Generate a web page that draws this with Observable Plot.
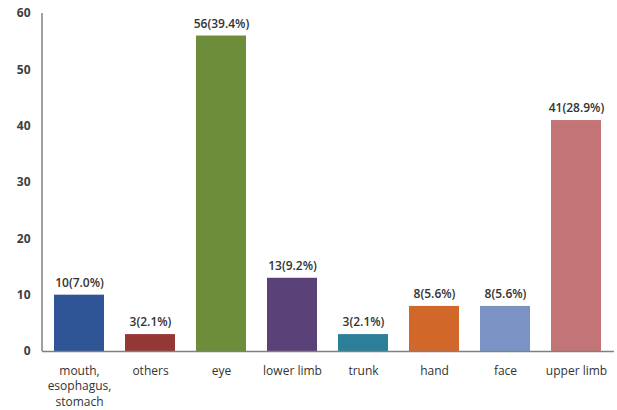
<!DOCTYPE html>
<html>
<head>
<meta charset="utf-8">
<script src="https://cdn.jsdelivr.net/npm/d3@7"></script>
<script src="https://cdn.jsdelivr.net/npm/@observablehq/plot@0.6"></script>
<style>
  html, body { margin: 0; padding: 0; background: #fff; }
  svg { display: block; }
</style>
</head>
<body>
<div id="chart"></div>
<script>
const categories = ["mouth,\nesophagus,\nstomach", "others", "eye", "lower limb", "trunk", "hand", "face", "upper limb"];
const counts = [10, 3, 56, 13, 3, 8, 8, 41];
const percents = ["7.0%", "2.1%", "39.4%", "9.2%", "2.1%", "5.6%", "5.6%", "28.9%"];
const colors = ["#2F5597", "#953735", "#6E8D3A", "#5A4278", "#2C7F99", "#D2672A", "#7A93C4", "#C27477"];
const yTicks = [0, 10, 20, 30, 40, 50, 60];

const data = categories.map((c, i) => ({cat: c, n: counts[i], label: `${counts[i]}(${percents[i]})`, color: colors[i]}));

const font = "'Open Sans', 'DejaVu Sans', sans-serif";

const chart = Plot.plot({
  width: 617,
  height: 410,
  marginTop: 13,
  marginBottom: 59,
  marginLeft: 42,
  marginRight: 3,
  style: {fontFamily: font, fontSize: "12px", color: "#404040", background: "#fff"},
  x: {domain: categories, paddingInner: 0.29, paddingOuter: 0.145, label: null},
  y: {domain: [0, 60], label: null},
  marks: [
    Plot.barY(data, {x: "cat", y: "n", fill: "color"}),
    Plot.text(data, {x: "cat", y: "n", text: "label", dy: -12, fill: "#333", fontSize: 12, fontWeight: 600}),
    Plot.axisY({ticks: yTicks, tickSize: 0, tickPadding: 12, fontWeight: 700, fill: "#404040", fontSize: 12, label: null}),
    Plot.axisX({tickSize: 0, tickPadding: 12, lineHeight: 1.3, fill: "#333", fontSize: 12, label: null, textAnchor: "middle"}),
    Plot.ruleY([0], {stroke: "#808080", strokeWidth: 1.5}),
    (index, scales, values, dim) => {
      const line = document.createElementNS("http://www.w3.org/2000/svg", "line");
      line.setAttribute("x1", dim.marginLeft);
      line.setAttribute("x2", dim.marginLeft);
      line.setAttribute("y1", scales.y(60));
      line.setAttribute("y2", scales.y(0));
      line.setAttribute("stroke", "#808080");
      line.setAttribute("stroke-width", 1.5);
      return line;
    }
  ]
});
document.getElementById("chart").appendChild(chart);
</script>
</body>
</html>
